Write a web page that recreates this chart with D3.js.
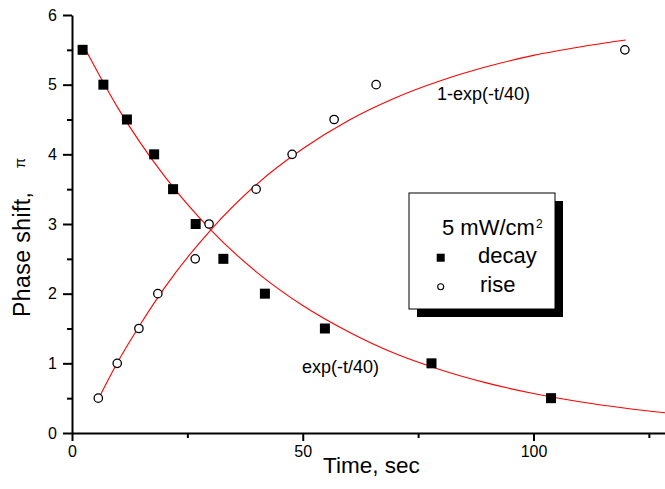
<!DOCTYPE html>
<html>
<head>
<meta charset="utf-8">
<script src="https://cdn.jsdelivr.net/npm/d3@7"></script>
<style>
  html, body { margin: 0; padding: 0; background: #fff; }
  svg { display: block; }
  text { font-family: "Liberation Sans", Arial, sans-serif; fill: #000; }
</style>
</head>
<body>
<svg id="chart" width="665" height="489"></svg>
<script>
// ---- data ----
const decayT = [2.3, 6.8, 11.9, 17.8, 21.9, 26.8, 32.8, 41.8, 54.8, 77.9, 103.8];
const decayV = [5.5, 5.0, 4.5, 4.0, 3.5, 3.0, 2.5, 2.0, 1.5, 1.0, 0.5];
const riseT = [5.7, 9.8, 14.5, 18.6, 26.7, 29.7, 39.9, 47.7, 56.8, 65.9, 119.8];
const riseV = [0.5, 1.0, 1.5, 2.0, 2.5, 3.0, 3.5, 4.0, 4.5, 5.0, 5.5];
// fitted curves
const decayFitT = [2.4, 10, 20, 30, 40, 50, 60, 70, 80, 90, 100, 110, 120, 129];
const decayFitV = [5.57, 4.66, 3.69, 2.92, 2.31, 1.83, 1.45, 1.14, 0.905, 0.716, 0.566, 0.448, 0.355, 0.287];
const riseFitT = [5.8, 10, 15, 20, 30, 40, 50, 60, 70, 80, 90, 100, 110, 120];
const riseFitV = [0.5, 1.03, 1.58, 2.08, 2.91, 3.57, 4.08, 4.49, 4.81, 5.06, 5.26, 5.42, 5.54, 5.64];
const xTicks = [0, 50, 100];
const xMinorTicks = [25, 75, 125];
const yTicks = [0, 1, 2, 3, 4, 5, 6];
const yMinorTicks = [0.5, 1.5, 2.5, 3.5, 4.5, 5.5];
const legendTitle = "5 mW/cm";
const legendSup = "2";
const seriesNames = ["decay", "rise"];
const xTitle = "Time, sec";
const yTitle = "Phase shift,";
const yUnit = "\u03c0";
const decayLabel = "exp(-t/40)";
const riseLabel = "1-exp(-t/40)";

const svg = d3.select("#chart");
const x = d3.scaleLinear().domain([0, 128.8]).range([72, 666.4]);
const y = d3.scaleLinear().domain([0, 6]).range([433, 15]);

// axes
const gx = svg.append("g").attr("transform", "translate(0,433)");
gx.call(d3.axisBottom(x).tickValues(xTicks).tickSize(8).tickSizeOuter(0).tickPadding(5).tickFormat(d3.format("d")));
const gxm = svg.append("g").attr("transform", "translate(0,433)");
gxm.call(d3.axisBottom(x).tickValues(xMinorTicks).tickSize(5).tickSizeOuter(0).tickFormat(""));
gxm.select(".domain").remove();

const gy = svg.append("g").attr("transform", "translate(72,0)");
gy.call(d3.axisLeft(y).tickValues(yTicks).tickSize(9).tickSizeOuter(0).tickPadding(6).tickFormat(d3.format("d")));
const gym = svg.append("g").attr("transform", "translate(72,0)");
gym.call(d3.axisLeft(y).tickValues(yMinorTicks).tickSize(5).tickSizeOuter(0).tickFormat(""));
gym.select(".domain").remove();

svg.selectAll(".domain, .tick line").attr("stroke", "#000").attr("stroke-width", 2);
svg.selectAll(".tick text").attr("font-size", 16).attr("fill", "#000")
  .style("font-family", '"Liberation Sans", Arial, sans-serif');
gx.selectAll(".tick text").attr("dy", "0.71em");

// fitted curves
const line = d3.line().x(d => x(d[0])).y(d => y(d[1])).curve(d3.curveMonotoneX);
svg.append("path").datum(decayFitT.map((t, i) => [t, decayFitV[i]]))
  .attr("d", line).attr("fill", "none").attr("stroke", "#ff0000").attr("stroke-width", 1.1);
svg.append("path").datum(riseFitT.map((t, i) => [t, riseFitV[i]]))
  .attr("d", line).attr("fill", "none").attr("stroke", "#ff0000").attr("stroke-width", 1.1);

// points
const sq = 10;
svg.append("g").selectAll("rect").data(decayT.map((t, i) => [t, decayV[i]])).join("rect")
  .attr("x", d => x(d[0]) - sq / 2).attr("y", d => y(d[1]) - sq / 2)
  .attr("width", sq).attr("height", sq).attr("fill", "#000");
svg.append("g").selectAll("circle").data(riseT.map((t, i) => [t, riseV[i]])).join("circle")
  .attr("cx", d => x(d[0])).attr("cy", d => y(d[1])).attr("r", 4.2)
  .attr("fill", "#fff").attr("stroke", "#000").attr("stroke-width", 1.3);

// curve labels
svg.append("text").attr("x", 302).attr("y", 373).attr("font-size", 18).text(decayLabel);
svg.append("text").attr("x", 437).attr("y", 100).attr("font-size", 18).text(riseLabel);

// axis titles
svg.append("text").attr("x", 323).attr("y", 473).attr("font-size", 22.5).text(xTitle);
svg.append("text").attr("transform", "translate(30,317) rotate(-90)").attr("font-size", 23)
  .attr("textLength", 125).text(yTitle);
svg.append("text").attr("transform", "translate(25,163) rotate(-90)").attr("font-size", 15)
  .attr("text-anchor", "middle").text(yUnit);

// legend
const lg = svg.append("g");
lg.append("rect").attr("x", 417).attr("y", 201).attr("width", 146).attr("height", 116).attr("fill", "#000");
lg.append("rect").attr("x", 409).attr("y", 193).attr("width", 146).attr("height", 116)
  .attr("fill", "#fff").attr("stroke", "#000").attr("stroke-width", 1);
const lt = lg.append("text").attr("x", 442).attr("y", 235).attr("font-size", 22);
lt.append("tspan").text(legendTitle);
lt.append("tspan").attr("font-size", 12).attr("dx", 1).attr("dy", -7).text(legendSup);
lg.append("rect").attr("x", 440.7 - 4).attr("y", 257.7 - 4).attr("width", 8).attr("height", 8).attr("fill", "#000");
lg.append("circle").attr("cx", 440.7).attr("cy", 286.7).attr("r", 3).attr("fill", "#fff")
  .attr("stroke", "#000").attr("stroke-width", 1.1);
lg.append("text").attr("x", 478).attr("y", 263).attr("font-size", 22).text(seriesNames[0]);
lg.append("text").attr("x", 480).attr("y", 292).attr("font-size", 22).text(seriesNames[1]);
</script>
</body>
</html>
